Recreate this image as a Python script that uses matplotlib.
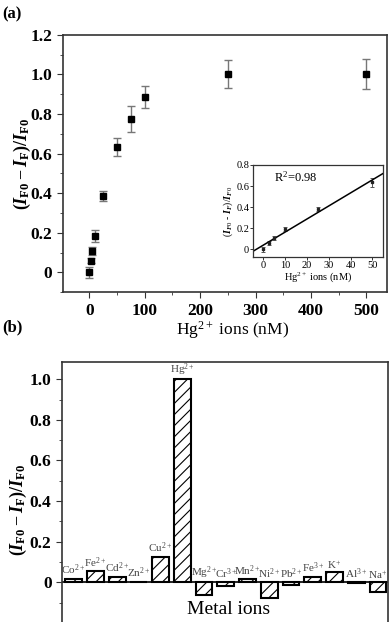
import numpy as np
import matplotlib
matplotlib.use("Agg")
import matplotlib.pyplot as plt
from matplotlib.ticker import MultipleLocator, FuncFormatter

plt.rcParams['font.family'] = ['Liberation Serif', 'DejaVu Serif']
plt.rcParams['mathtext.fontset'] = 'custom'
plt.rcParams['mathtext.rm'] = 'Liberation Serif'
plt.rcParams['mathtext.it'] = 'Liberation Serif:italic:bold'
plt.rcParams['mathtext.bf'] = 'Liberation Serif:bold'
plt.rcParams['hatch.linewidth'] = 0.8
plt.rcParams['hatch.color'] = '#555555'

# (a) response vs Hg2+ concentration
conc = [0, 2.5, 5, 10, 25, 50, 75, 100, 250, 500]
resp = [0.0, 0.06, 0.11, 0.185, 0.385, 0.635, 0.775, 0.885, 1.0, 1.0]
resp_err = [0.03, 0.012, 0.02, 0.03, 0.025, 0.045, 0.065, 0.055, 0.07, 0.075]

# inset: linear range
lin_conc = [0, 2.5, 5, 10, 25, 50]
lin_resp = [0.0, 0.06, 0.11, 0.19, 0.385, 0.635]
lin_err = [0.025, 0.02, 0.02, 0.02, 0.02, 0.04]

# (b) selectivity
ions = ['Co$^{2+}$', 'Fe$^{2+}$', 'Cd$^{2+}$', 'Zn$^{2+}$', 'Cu$^{2+}$', 'Hg$^{2+}$',
        'Mg$^{2+}$', 'Cr$^{3+}$', 'Mn$^{2+}$', 'Ni$^{2+}$', 'Pb$^{2+}$', 'Fe$^{3+}$',
        'K$^{+}$', 'Al$^{3+}$', 'Na$^{+}$']
ion_resp = [0.018, 0.053, 0.028, 0.003, 0.126, 1.0, -0.063, -0.018, 0.017,
            -0.076, -0.015, 0.028, 0.05, -0.004, -0.05]

ylab = r'$\mathbf{(}\mathit{I}_{\mathbf{F0}} - \mathit{I}_{\mathbf{F}}\mathbf{)/}\mathit{I}_{\mathbf{F0}}$'
fmt = FuncFormatter(lambda v, p: '0' if abs(v) < 1e-9 else f'{v:.1f}')
spine_c = '#333333'

def style(ax, lw=1.2):
    for s in ax.spines.values():
        s.set_color(spine_c)
        s.set_linewidth(lw)

fig = plt.figure(figsize=(3.92, 6.22), dpi=100)

# ---- panel (a)
W, H = 392.0, 622.0
axa = fig.add_axes([62.7 / W, 1 - 292.3 / H, (387 - 62.7) / W, (292.3 - 34.7) / H])
style(axa)
axa.errorbar(conc, resp, yerr=resp_err, fmt='s', color='black', ms=5,
             ecolor='#777777', elinewidth=1, capsize=3, capthick=1)
axa.set_xlim(-48, 537)
axa.set_ylim(-0.1, 1.2)
axa.xaxis.set_major_locator(MultipleLocator(100))
axa.xaxis.set_minor_locator(MultipleLocator(50))
axa.yaxis.set_major_locator(MultipleLocator(0.2))
axa.yaxis.set_minor_locator(MultipleLocator(0.1))
axa.yaxis.set_major_formatter(fmt)
axa.tick_params(which='both', direction='out', color=spine_c, top=False, right=False)
axa.tick_params(which='major', length=4, labelsize=12.5)
axa.tick_params(which='minor', length=2.5)
for t in axa.get_xticklabels() + axa.get_yticklabels():
    t.set_fontweight('bold')

# inset
axi = fig.add_axes([253.3 / W, 1 - 257.3 / H, (383.3 - 253.3) / W, (257.3 - 165) / H])
style(axi, lw=0.9)
axi.errorbar(lin_conc, lin_resp, yerr=lin_err, fmt='s', color='#222222', ms=2,
             ecolor='#555555', elinewidth=0.7, capsize=1.2, capthick=0.7)
k, b = np.polyfit(lin_conc, lin_resp, 1)
xx = np.array([-4.6, 55])
axi.plot(xx, k * xx + b, color='black', lw=1.1)
axi.set_xlim(-4.6, 55)
axi.set_ylim(-0.077, 0.8)
axi.xaxis.set_major_locator(MultipleLocator(10))
axi.yaxis.set_major_locator(MultipleLocator(0.2))
axi.yaxis.set_major_formatter(fmt)
axi.tick_params(direction='out', length=2, width=0.7, labelsize=7.5, pad=1, color=spine_c)
axi.text(5, 0.68, 'R$^{2}$=0.98', fontsize=9, va='center')
axi.set_xlabel('Hg$^{2+}$ ions (nM)', fontsize=7.5, labelpad=0)
axi.set_ylabel(r'$(\mathit{I}_{F0}$ - $\mathit{I}_{F})/\mathit{I}_{F0}$', fontsize=7, labelpad=1)

fig.text(22 / W, 1 - 164 / H, ylab, rotation=90, ha='center', va='center', fontsize=13)
fig.text(233 / W, 1 - 330 / H, 'Hg$^{2+}$ ions (nM)', ha='center', va='center', fontsize=12.5)
fig.text(12 / W, 1 - 14 / H, '(a)', ha='center', va='center', fontsize=12, fontweight='bold')
fig.text(12 / W, 1 - 327 / H, '(b)', ha='center', va='center', fontsize=12, fontweight='bold')

# ---- panel (b)
axb = fig.add_axes([62 / W, 0, (388 - 62) / W, (622 - 362) / H])
style(axb)
axb.spines['bottom'].set_visible(False)
pos = np.arange(len(ions))
axb.bar(pos, ion_resp, width=0.78, color='white', edgecolor='black',
        linewidth=1.5, hatch='///', zorder=2)
axb.axhline(0, color='black', lw=1.2, zorder=1)
for i, (lab, v) in enumerate(zip(ions, ion_resp)):
    axb.text(i, max(v, 0) + 0.006, lab, ha='center', va='bottom',
             fontsize=8, color='#444444')
axb.set_xlim(-0.53, len(ions) - 0.54)
axb.set_ylim(-0.196, 1.085)
axb.set_xticks([])
axb.yaxis.set_major_locator(MultipleLocator(0.2))
axb.yaxis.set_minor_locator(MultipleLocator(0.1))
axb.yaxis.set_major_formatter(fmt)
axb.set_yticks(np.arange(0, 1.01, 0.2))
axb.tick_params(which='both', direction='out', color=spine_c)
axb.tick_params(which='major', length=4, labelsize=12.5)
axb.tick_params(which='minor', length=2.5)
for t in axb.get_yticklabels():
    t.set_fontweight('bold')

fig.text(18 / W, 1 - 510 / H, ylab, rotation=90, ha='center', va='center', fontsize=13)
fig.text(229 / W, 1 - 609 / H, 'Metal ions', ha='center', va='center', fontsize=14)

fig.savefig('out.png', dpi=100)
